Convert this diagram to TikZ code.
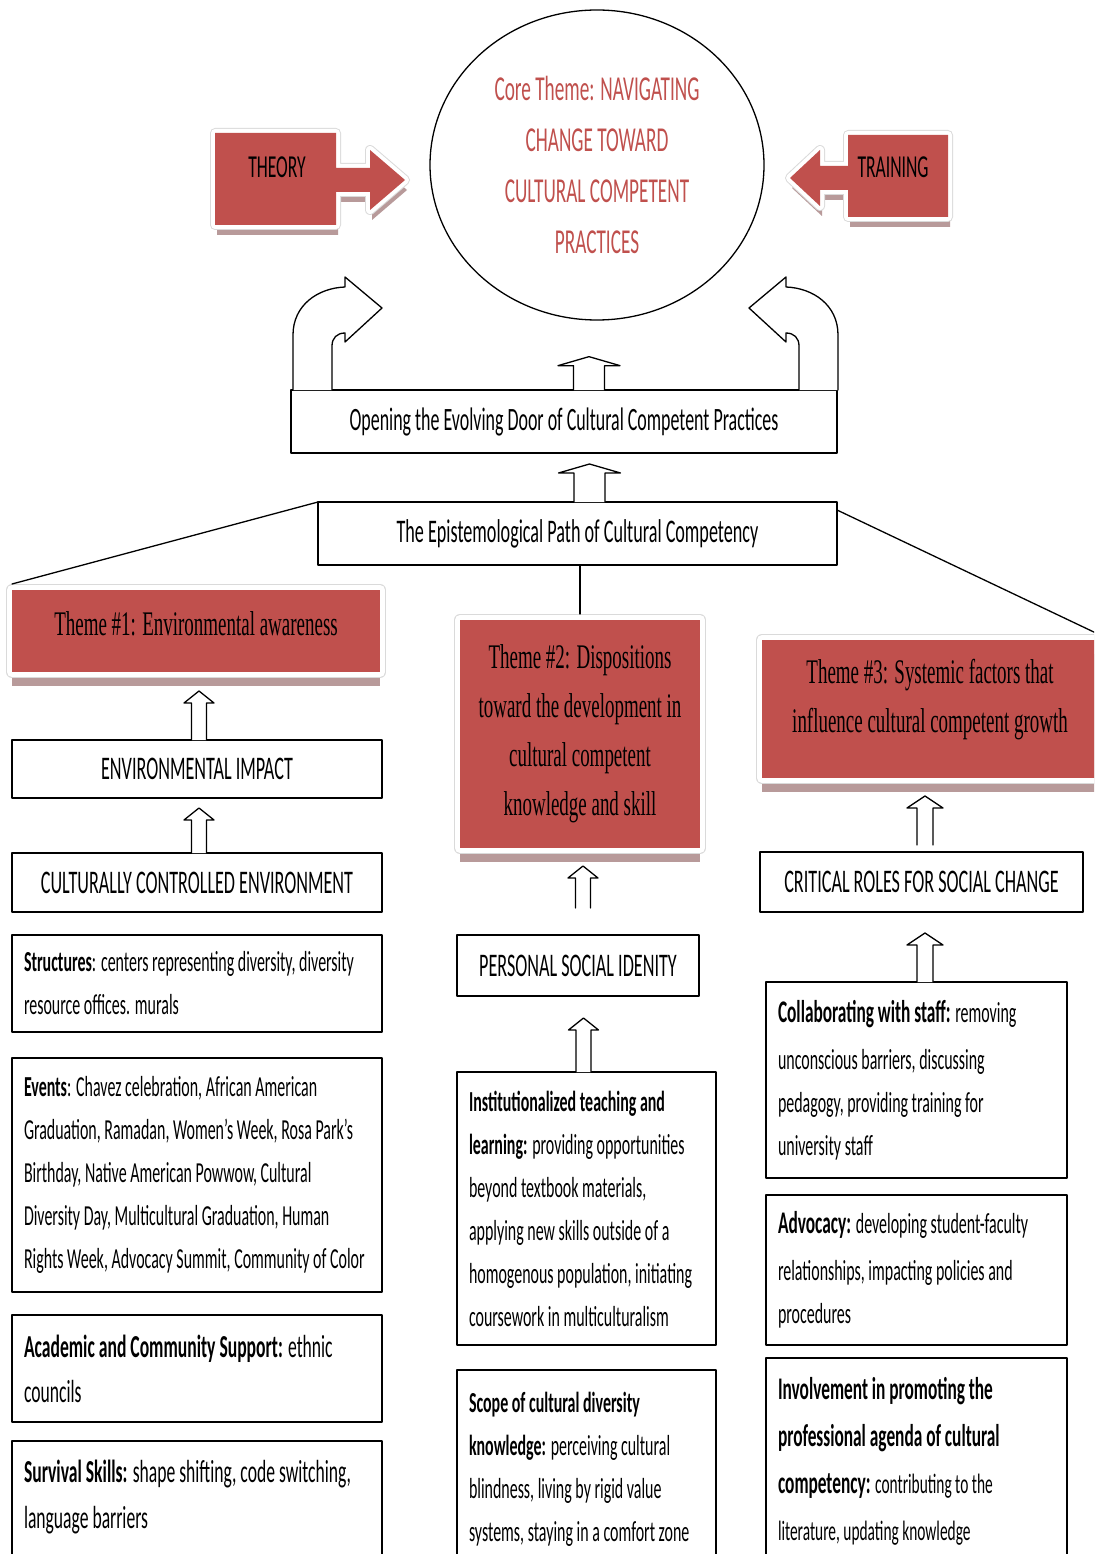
\documentclass[tikz,border=0pt]{standalone}
\usepackage{fontspec}
\setmainfont{Carlito}[FakeStretch=0.55]
\newfontfamily\themefont{Liberation Serif}[FakeStretch=0.55]
\usetikzlibrary{calc,shapes.geometric,shadows}
\definecolor{themered}{HTML}{C0504D}
\definecolor{shadowpink}{HTML}{B89A9A}
\definecolor{framegray}{HTML}{DADADA}
\newcommand\hd[1]{\textbf{#1}}
\newcommand\hdl[1]{{\fontsize{31.5}{43}\selectfont\bfseries #1}}
%% hollow up arrow: lower anchor, upper anchor, gap below, gap above, half shaft, half head, head height
\newcommand\upblock[7]{%
	\draw[hollow] let \p1=(#1), \p2=(#2) in
	(\x1-#5pt,\y1+#3pt) -- (\x1-#5pt,\y2-#4pt-#7pt) -- (\x1-#6pt,\y2-#4pt-#7pt)
	-- (\x1,\y2-#4pt) -- (\x1+#6pt,\y2-#4pt-#7pt) -- (\x1+#5pt,\y2-#4pt-#7pt)
	-- (\x1+#5pt,\y1+#3pt);}
\begin{document}
\begin{tikzpicture}[x=1pt, y=-1pt, line join=round, line cap=round,
	box/.style={draw, line width=1.3pt, inner sep=0pt, outer sep=0pt, anchor=north west},
	capbox/.style={box, font=\fontsize{33}{40}\selectfont},
	textbox/.style={box, align=flush left, inner xsep=12pt, font=\fontsize{29}{43}\selectfont},
	cutbox/.style={textbox, text depth=220pt},
	themebox/.style={fill=themered, general shadow={fill=shadowpink, shadow yshift=-14pt},
		preaction={draw=framegray, line width=12pt}, preaction={draw=white, line width=10pt},
		font=\themefont\fontsize{34.5}{49}\selectfont, align=center, inner sep=0pt, outer sep=0pt},
	redshape/.style={fill=themered, general shadow={fill=shadowpink, shadow xshift=2pt, shadow yshift=-10pt},
		preaction={draw=framegray, line width=10pt}, preaction={draw=white, line width=8pt}},
	hollow/.style={draw, fill=white, line width=1.3pt},
	thinline/.style={line width=1.3pt}]
	\useasboundingbox (0,0) rectangle (1094,1554);
	\fill[white] (0,0) rectangle (1094,1554);
	\clip (0,0) rectangle (1094,1554);
	
	%% core theme
	\node[ellipse, draw, line width=1.3pt, minimum width=334pt, minimum height=310pt, inner sep=0pt,
	align=center, text=themered, font=\fontsize{35}{51}\selectfont] (core) at (597,165)
	{Core Theme: NAVIGATING\\ CHANGE TOWARD\\ CULTURAL COMPETENT\\ PRACTICES};
	
	%% theory and training
	\path[redshape] (215,133) -- (336,133) -- (336,168) -- (370,168) -- (370,150) -- (405,180)
	-- (370,210) -- (370,192) -- (336,192) -- (336,225) -- (215,225) -- cycle;
	\path[redshape] (948,135) -- (848,135) -- (848,166) -- (820,166) -- (820,150) -- (790,178)
	-- (820,206) -- (820,190) -- (848,190) -- (848,217) -- (948,217) -- cycle;
	\node[font=\fontsize{32}{40}\selectfont] (theory) at (277,167) {THEORY};
	\node[font=\fontsize{32}{40}\selectfont] (training) at (893,167) {TRAINING};
	
	%% middle boxes
	\node[capbox, minimum width=546pt, minimum height=63pt, font=\fontsize{32.6}{40}\selectfont] (open) at (291,390)
	{Opening the Evolving Door of Cultural Competent Practices};
	\node[capbox, minimum width=519pt, minimum height=63pt, font=\fontsize{33}{40}\selectfont] (epi) at (318,502)
	{The Epistemological Path of Cultural Competency};
	
	%% curved arrows
	\foreach \s/\o in {1/0,-1/1131}
	\draw[hollow, shift={(\o,0)}, xscale=\s] (293,390) -- (293,335)
	.. controls (293,305) and (318,288) .. (345,287) -- (345,277) -- (382,308)
	-- (345,342) -- (345,333) .. controls (337,333) and (332,338) .. (332,346) -- (332,390);
	
	%% themes
	\node[themebox, minimum width=368pt, minimum height=82pt, text depth=14pt] (theme1) at (196,631)
	{Theme \#1: Environmental awareness};
	\node[themebox, minimum width=240pt, minimum height=228pt] (theme2) at (580,734)
	{Theme \#2: Dispositions\\ toward the development in\\ cultural competent\\ knowledge and skill};
	\node[themebox, minimum width=336pt, minimum height=138pt, text depth=26pt] (theme3) at (930,709)
	{Theme \#3: Systemic factors that\\ influence cultural competent growth};
	
	\draw[thinline] (epi.north west) -- ($(theme1.north west)+(0,-6)$);
	\draw[thinline] ($(epi.north east)+(0,8)$) -- ($(theme3.north east)+(0,-6)$);
	\draw[thinline] ($(theme2.north)+(0,-6)$) -- (theme2.north |- epi.south);
	
	%% left column
	\node[capbox, minimum width=370pt, minimum height=58pt] (envimp) at (12,740) {ENVIRONMENTAL IMPACT};
	\node[capbox, minimum width=370pt, minimum height=59pt] (ccenv) at (12,853) {CULTURALLY CONTROLLED ENVIRONMENT};
	\node[textbox, text width=346pt, minimum height=97pt] (struct) at (12,935)
	{\hd{Structures}: centers representing diversity, diversity\\ resource offices. murals};
	\node[textbox, text width=346pt, minimum height=234pt] (events) at (12,1058)
	{\hd{Events}: Chavez celebration, African American\\ Graduation, Ramadan,\ Women’s Week, Rosa Park’s\\
		Birthday, Native American Powwow,\ Cultural\\ Diversity Day, Multicultural\ Graduation, Human\\
		Rights Week, Advocacy Summit,\ Community\ of Color};
	\node[textbox, text width=346pt, minimum height=107pt, font=\fontsize{32}{45}\selectfont] (academic) at (12,1315)
	{\hd{Academic and Community Support:} ethnic\\ councils};
	\node[cutbox, text width=346pt, inner ysep=19pt, font=\fontsize{32}{46}\selectfont] (survival) at (12,1441)
	{\hd{Survival Skills:} shape shifting, code switching,\\ language barriers};
	
	%% middle column
	\node[capbox, minimum width=242pt, minimum height=61pt] (psi) at (457,935) {PERSONAL SOCIAL IDENITY};
	\node[textbox, text width=235pt, minimum height=273pt] (inst) at (457,1072)
	{\hd{Institutionalized teaching and}\\ \hd{learning:} providing opportunities\\ beyond textbook materials,\\
		applying new skills outside of a\\ homogenous population, initiating\\ coursework in multiculturalism};
	\node[cutbox, text width=235pt, inner ysep=22pt] (scope) at (457,1370)
	{\hd{Scope of cultural\ diversity}\\ \hd{knowledge:} perceiving cultural\\ blindness, living by rigid value\\
		systems, staying in a comfort zone};
	
	%% right column
	\node[capbox, minimum width=323pt, minimum height=60pt] (crit) at (760,852) {CRITICAL ROLES FOR SOCIAL CHANGE};
	\node[textbox, text width=277pt, minimum height=196pt] (collab) at (766,982)
	{\hdl{Collaborating with staff:} removing\\[4pt] unconscious barriers, discussing\\ pedagogy, providing training for\\ university staff};
	\node[textbox, text width=277pt, minimum height=150pt] (advocacy) at (766,1195)
	{\hdl{Advocacy:} developing student-faculty\\[4pt] relationships, impacting\ policies and\\ procedures};
	\node[cutbox, text width=277pt, inner ysep=19pt, font=\fontsize{28}{47}\selectfont] (involve) at (766,1358)
	{\hdl{Involvement in promoting the}\\ \hdl{professional agenda of cultural}\\ \hdl{competency:} contributing to the\\
		literature, updating\ knowledge};
	
	%% hollow arrows
	\upblock{$(open.north)+(25,0)$}{core.south}{0}{36}{15.5}{31}{9}
	\upblock{$(epi.north)+(12,0)$}{open.south}{0}{11}{15.5}{31}{9}
	\upblock{$(envimp.north)+(2,0)$}{theme1.south}{0}{19}{7.5}{15}{12}
	\upblock{$(ccenv.north)+(2,0)$}{envimp.south}{0}{10}{7.5}{15}{12}
	\upblock{$(psi.north)+(5,0)$}{theme2.south}{27}{18}{7.5}{15}{12}
	\upblock{$(inst.north)+(-3,0)$}{psi.south}{0}{22}{7.5}{15}{12}
	\upblock{$(crit.north)+(3.5,0)$}{theme3.south}{7}{18}{8}{18}{12}
	\upblock{$(collab.north)+(8.5,0)$}{crit.south}{0}{21}{8}{18}{12}
	
\end{tikzpicture}
\end{document}
